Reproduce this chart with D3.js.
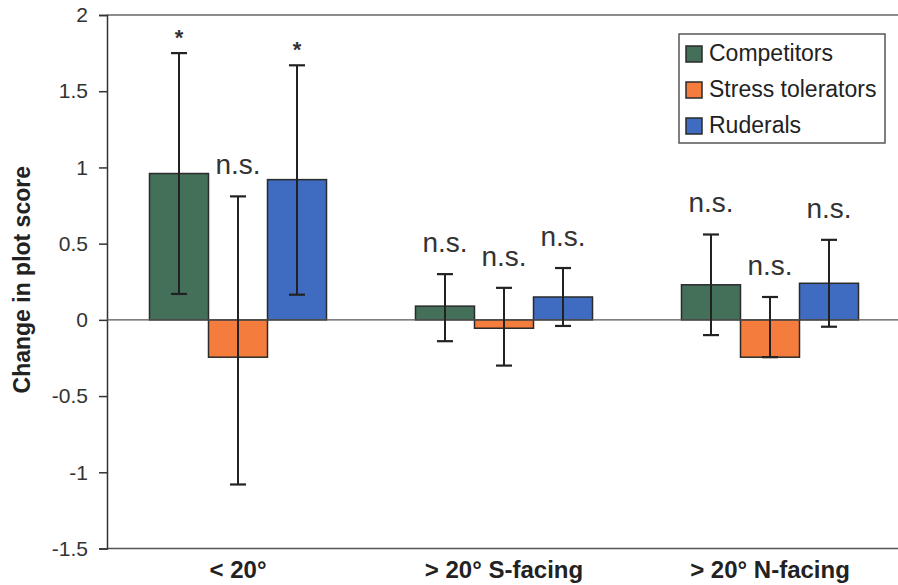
<!DOCTYPE html>
<html>
<head>
<meta charset="utf-8">
<script src="https://cdn.jsdelivr.net/npm/d3@7"></script>
<style>
  html, body { margin: 0; padding: 0; background: #fff; }
  svg { display: block; }
  text { font-family: "Liberation Sans", Arial, sans-serif; }
</style>
</head>
<body>
<svg id="chart" width="898" height="585"></svg>
<script>
// ---- Data ----
const categories = ["< 20°", "> 20° S-facing", "> 20° N-facing"];
const seriesNames = ["Competitors", "Stress tolerators", "Ruderals"];
const seriesColors = ["#44705a", "#f47c3c", "#3f6cc0"];

const competitors      = [0.96, 0.09, 0.23];
const competitorsLow   = [0.17, -0.14, -0.10];
const competitorsHigh  = [1.75, 0.30, 0.56];
const competitorsSig   = ["*", "n.s.", "n.s."];

const stressTol        = [-0.245, -0.055, -0.245];
const stressTolLow     = [-1.08, -0.30, -0.245];
const stressTolHigh    = [0.81, 0.21, 0.15];
const stressTolSig     = ["n.s.", "n.s.", "n.s."];

const ruderals         = [0.92, 0.15, 0.24];
const ruderalsLow      = [0.165, -0.04, -0.045];
const ruderalsHigh     = [1.67, 0.34, 0.525];
const ruderalsSig      = ["*", "n.s.", "n.s."];

const yTicks = [-1.5, -1, -0.5, 0, 0.5, 1, 1.5, 2];
const yLabel = "Change in plot score";

// ---- Build table ----
const seriesTable = [
  { name: seriesNames[0], values: competitors, low: competitorsLow, high: competitorsHigh, sig: competitorsSig, color: seriesColors[0] },
  { name: seriesNames[1], values: stressTol,   low: stressTolLow,   high: stressTolHigh,   sig: stressTolSig,   color: seriesColors[1] },
  { name: seriesNames[2], values: ruderals,    low: ruderalsLow,    high: ruderalsHigh,    sig: ruderalsSig,    color: seriesColors[2] }
];
const rows = [];
categories.forEach((c, i) => {
  seriesTable.forEach(s => {
    rows.push({ cat: c, series: s.name, v: s.values[i], lo: s.low[i], hi: s.high[i], sig: s.sig[i], color: s.color });
  });
});

// ---- Layout ----
const svg = d3.select("#chart");
const mLeft = 107, mRight = 898, mTop = 15, mBottom = 548.5;

const x0 = d3.scaleBand().domain(categories).range([105, 903]).paddingInner(0).paddingOuter(0);
const x1 = d3.scaleBand().domain(seriesNames).range([0, x0.bandwidth()]).paddingInner(0).paddingOuter(0.754);
const y = d3.scaleLinear().domain([-1.5, 2]).range([mBottom, mTop]);

// top border line
svg.append("line")
  .attr("x1", mLeft).attr("x2", mRight).attr("y1", y(2)).attr("y2", y(2))
  .attr("stroke", "#666").attr("stroke-width", 1.5);

// bottom line
svg.append("line")
  .attr("x1", mLeft).attr("x2", mRight).attr("y1", y(-1.5)).attr("y2", y(-1.5))
  .attr("stroke", "#555").attr("stroke-width", 1.5);

// y axis
const yAxis = d3.axisLeft(y).tickValues(yTicks).tickSize(8).tickPadding(11).tickFormat(d => String(d));
const gy = svg.append("g").attr("transform", `translate(${mLeft},0)`).call(yAxis);
gy.select(".domain").attr("stroke", "#333").attr("stroke-width", 1.5);
gy.selectAll(".tick line").attr("stroke", "#333").attr("stroke-width", 1.5);
gy.selectAll(".tick text").attr("font-size", 21).attr("fill", "#333")
  .style("font-family", "'Liberation Sans', Arial, sans-serif");

// y title
svg.append("text")
  .attr("transform", `translate(30,${(y(2) + y(-1.5)) / 2 - 2}) rotate(-90)`)
  .attr("text-anchor", "middle")
  .attr("font-size", 23).attr("font-weight", "bold").attr("fill", "#222")
  .text(yLabel);

// bars
svg.append("g").selectAll("rect").data(rows).join("rect")
  .attr("x", d => x0(d.cat) + x1(d.series))
  .attr("width", x1.bandwidth())
  .attr("y", d => y(Math.max(0, d.v)))
  .attr("height", d => Math.abs(y(d.v) - y(0)))
  .attr("fill", d => d.color)
  .attr("stroke", "#2a2a2a").attr("stroke-width", 1.5);

// zero line
svg.append("line")
  .attr("x1", mLeft).attr("x2", mRight).attr("y1", y(0)).attr("y2", y(0))
  .attr("stroke", "#555").attr("stroke-width", 1.2);

// error bars
const eb = svg.append("g").selectAll("g").data(rows).join("g")
  .attr("transform", d => `translate(${x0(d.cat) + x1(d.series) + x1.bandwidth() / 2},0)`);
eb.append("line").attr("x1", 0).attr("x2", 0)
  .attr("y1", d => y(d.lo)).attr("y2", d => y(d.hi))
  .attr("stroke", "#222").attr("stroke-width", 2);
eb.append("line").attr("x1", -8).attr("x2", 8)
  .attr("y1", d => y(d.hi)).attr("y2", d => y(d.hi))
  .attr("stroke", "#222").attr("stroke-width", 2.2);
eb.append("line").attr("x1", -8).attr("x2", 8)
  .attr("y1", d => y(d.lo)).attr("y2", d => y(d.lo))
  .attr("stroke", "#222").attr("stroke-width", 2.2);

// significance labels
eb.append("text")
  .attr("text-anchor", "middle")
  .attr("y", d => d.sig === "*" ? y(d.hi) - 8 : y(d.hi) - 22)
  .attr("font-size", d => d.sig === "*" ? 22 : 28)
  .attr("font-weight", d => d.sig === "*" ? "bold" : "normal")
  .attr("fill", "#333")
  .text(d => d.sig);

// x labels
svg.append("g").selectAll("text").data(categories).join("text")
  .attr("x", d => x0(d) + x0.bandwidth() / 2)
  .attr("y", 578)
  .attr("text-anchor", "middle")
  .attr("font-size", 24).attr("font-weight", "bold").attr("fill", "#222")
  .text(d => d);

// legend
const lg = svg.append("g");
lg.append("rect").attr("x", 679).attr("y", 34).attr("width", 206).attr("height", 109)
  .attr("fill", "#fff").attr("stroke", "#555").attr("stroke-width", 1.5);
const li = lg.selectAll("g").data(seriesTable).join("g")
  .attr("transform", (d, i) => `translate(686,${61 + i * 36})`);
li.append("rect").attr("x", 0).attr("y", -15).attr("width", 16).attr("height", 16)
  .attr("fill", d => d.color).attr("stroke", "#2a2a2a").attr("stroke-width", 1.5);
li.append("text").attr("x", 23).attr("y", 0)
  .attr("font-size", 23).attr("fill", "#222")
  .text(d => d.name);
</script>
</body>
</html>
